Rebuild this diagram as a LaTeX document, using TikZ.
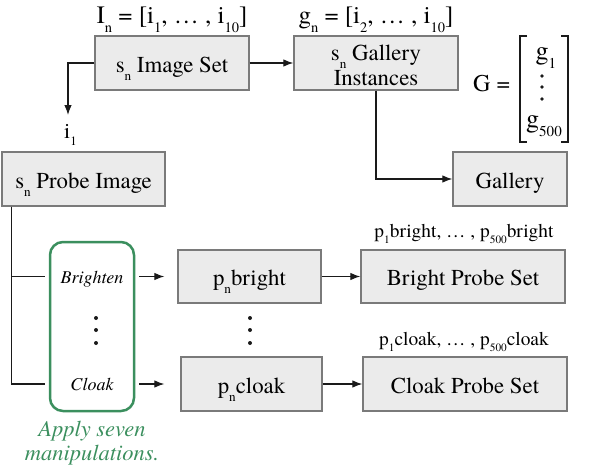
\documentclass[tikz,border=0pt]{standalone}
\usepackage{fontspec}
\setmainfont{texgyretermes}[Extension=.otf, UprightFont=*-regular, ItalicFont=*-italic, BoldFont=*-bold, BoldItalicFont=*-bolditalic]
\usepackage{graphicx}
\usetikzlibrary{arrows.meta}
\newcommand{\sbs}[1]{\raisebox{-0.36em}{\scalebox{0.58}{#1}}}
\definecolor{boxfill}{HTML}{EBEBEB}
\definecolor{boxline}{HTML}{7A7A7A}
\definecolor{grn}{HTML}{3B8F5E}
\definecolor{ink}{HTML}{1A1A1A}
\begin{document}
\begin{tikzpicture}[x=1pt,y=-1pt,
  box/.style={draw=boxline, fill=boxfill, line width=1.3pt, inner sep=0pt, align=center,
    text height=18pt, text depth=0pt, font=\fontsize{22.8}{25}\selectfont},
  emptybox/.style={draw=boxline, fill=boxfill, line width=1.3pt, inner sep=0pt},
  boxtext/.style={inner sep=0pt, align=center, font=\fontsize{22.8}{25}\selectfont},
  toplbl/.style={inner sep=0pt, anchor=base, font=\fontsize{25}{28}\selectfont},
  lbl/.style={inner sep=0pt, anchor=base, font=\fontsize{22}{25}\selectfont},
  mtx/.style={inner sep=0pt, anchor=base, font=\fontsize{26}{28}\selectfont},
  smlbl/.style={inner sep=0pt, anchor=base, font=\fontsize{19.4}{22}\selectfont},
  manip/.style={inner sep=0pt, anchor=base, font=\fontsize{18}{20}\selectfont\itshape},
  note/.style={inner sep=0pt, anchor=base, text=grn, font=\fontsize{22.5}{24}\selectfont\itshape},
  conn/.style={draw=ink, line width=1.1pt},
  arr/.style={conn, -{Latex[length=10pt,width=7.5pt]}},
  dotm/.style={fill=ink, draw=none},
  brk/.style={draw=ink, line width=1.3pt}]
\useasboundingbox (0,0) rectangle (598,472);
% boxes
\node[box, minimum width=154pt, minimum height=54pt] (img) at (172,63) {s\sbs{n} Image Set};
\node[emptybox, minimum width=164pt, minimum height=54pt] (gin) at (376,63) {};
\node[boxtext] (gint) at (376,65.5) {s\sbs{n} Gallery\\Instances};
\node[box, minimum width=163pt, minimum height=54pt] (probe) at (83.5,179) {s\sbs{n} Probe Image};
\node[box, minimum width=114pt, minimum height=54pt] (gal) at (510,179) {Gallery};
\node[draw=grn, line width=2.5pt, rounded corners=13pt, minimum width=84pt, minimum height=169pt, inner sep=0pt] (green) at (92,326.5) {};
\node[box, minimum width=143pt, minimum height=53pt] (pb) at (249.5,276.5) {p\sbs{n}bright};
\node[box, minimum width=141pt, minimum height=54pt] (pc) at (251.5,384) {p\sbs{n}cloak};
\node[box, minimum width=204pt, minimum height=53pt] (bps) at (463,276.5) {Bright Probe Set};
\node[box, minimum width=204pt, minimum height=54pt] (cps) at (465,384) {Cloak Probe Set};
% labels
\node[toplbl] (inl) at (172,23) {I\sbs{n} = [i\sbs{1}, … , i\sbs{10}]};
\node[toplbl] (gnl) at (376,23) {g\sbs{n} = [i\sbs{2}, … , i\sbs{10}]};
\node[lbl, anchor=base west] (i1) at (64,138) {i\sbs{1}};
\node[smlbl] (pbl) at (464,237) {p\sbs{1}bright, … , p\sbs{500}bright};
\node[smlbl] (pcl) at (464,345) {p\sbs{1}cloak, … , p\sbs{500}cloak};
\node[manip] (bri) at (92,283) {Brighten};
\node[manip] (clo) at (92,390) {Cloak};
\node[note] (ap1) at (92,436) {Apply seven};
\node[note] (ap2) at (92,460) {manipulations.};
% G matrix
\node[mtx, anchor=base west, font=\fontsize{24}{26}\selectfont] (geq) at (473,91) {G =};
\node[mtx] (g1) at (546,59) {g\sbs{1}};
\node[mtx] (g500) at (544,127) {g\sbs{500}};
\foreach \yy in {76,87,99} \fill[dotm] (542,\yy) circle (1.9pt);
\draw[brk] (527,36) -- (520,36) -- (520,142) -- (527,142);
\draw[brk] (561,36) -- (568,36) -- (568,142) -- (561,142);
% vdots
\foreach \yy in {318,330,343} {\fill[dotm] (96,\yy) circle (2pt); \fill[dotm] (250,\yy) circle (2pt);}
% connectors
\coordinate (a1) at (68,115);
\draw[arr] (img.west) -| (a1);
\draw[arr] (img) -- (gin);
\draw[arr] (gin.south) |- (gal.west);
\coordinate (pbot) at ([xshift=10pt]probe.south west);
\draw[conn, shorten >=4pt] (pbot) |- (green.west |- pb.west);
\draw[conn, shorten >=4pt] (pbot) |- (green.west |- pc.west);
\draw[arr, shorten <=4pt, shorten >=13pt] (green.east |- pb.west) -- (pb.west);
\draw[arr, shorten <=4pt, shorten >=16pt] (green.east |- pc.west) -- (pc.west);
\draw[arr] (pb) -- (bps);
\draw[arr] (pc) -- (cps);
\end{tikzpicture}
\end{document}
